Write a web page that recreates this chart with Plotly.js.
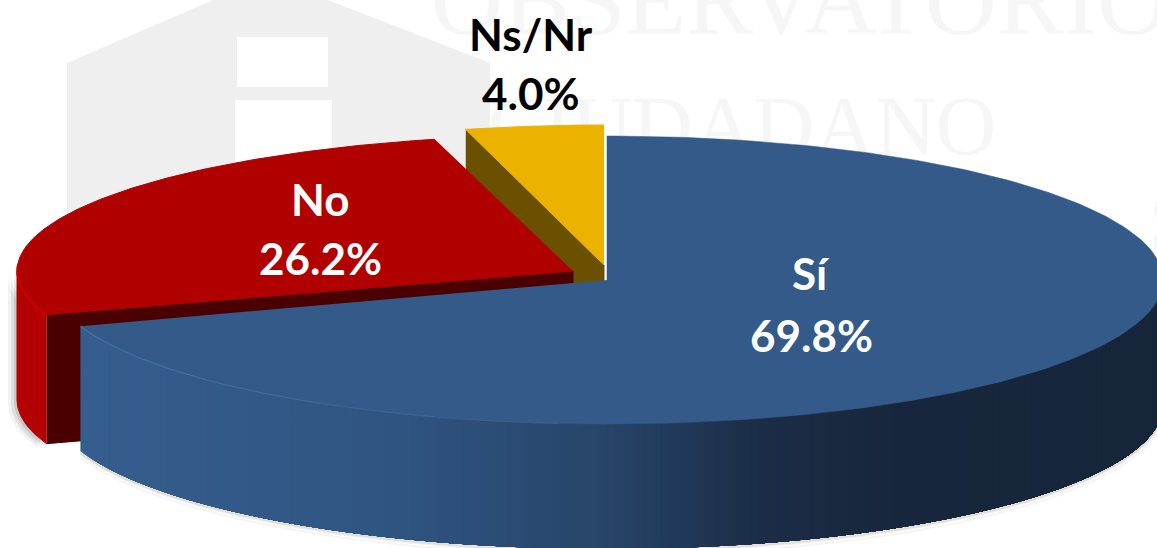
<!DOCTYPE html>
<html><head><meta charset="utf-8">
<script src="https://cdn.plot.ly/plotly-3.0.1.min.js"></script>
<style>html,body{margin:0;padding:0;background:#fff;overflow:hidden}#c{width:1157px;height:548px}</style>
</head><body><div id="c"></div>
<script>
const categories = ['Sí', 'No', 'Ns/Nr'];
const values = [69.8, 26.2, 4.0];
const topColors = ['#345A89', '#B00000', '#ECB200'];
const faceColors = ['#2F5481', '#4A0000', '#6B5000'];
const wallColor = '#B40000';
const centerX = [607, 573, 604];
const centerY = [280, 271, 265];
const radiiX = [556, 556, 556];
const radiiY = [144, 136, 140];
const depth = 125;
const labelX = [811, 320, 531];
const nameY = [273, 199, 34];
const pctY = [335, 258, 93];
const labelColors = ['#FFFFFF', '#FFFFFF', '#000000'];
const wallStopX = [80, 400, 607, 760, 900, 1157];
const wallStopRGB = [[53,94,142],[47,84,129],[39,68,105],[27,45,70],[23,38,60],[22,37,58]];
const watermarkText = ['OBSERVATORIO', 'CIUDADANO', 'S'];
const watermarkX = [800, 742, 1172];
const watermarkY = [8, 134, 230];
const watermarkSize = [100, 84, 84];
const rimAngles = [185, 198, 212, 226];
const rimColors = ['#37608F', '#3B6595', '#406B9B', '#44709F'];

const total = values.reduce((a, b) => a + b, 0);
const R = Math.PI / 180;
let acc = 0;
const startA = [], endA = [];
values.forEach(v => { startA.push(acc); acc += v / total * 360; endA.push(acc); });

const pt = (i, a, d = 0) => [centerX[i] + radiiX[i] * Math.sin(a * R), centerY[i] - radiiY[i] * Math.cos(a * R) + d];
const arc = (i, a0, a1, d = 0, n = 120) => {
  const out = [];
  for (let k = 0; k <= n; k++) out.push(pt(i, a0 + (a1 - a0) * k / n, d));
  return out;
};
const poly = (points, color, lw = 1) => ({
  type: 'scatter', mode: 'lines', x: points.map(p => p[0]), y: points.map(p => p[1]),
  fill: 'toself', fillcolor: color, line: { color, width: lw },
  hoverinfo: 'skip', showlegend: false
});
const stroke = (points, color, width) => ({
  type: 'scatter', mode: 'lines', x: points.map(p => p[0]), y: points.map(p => p[1]),
  line: { color, width }, hoverinfo: 'skip', showlegend: false
});
const wallColorAt = x => {
  let j = 0;
  while (j < wallStopX.length - 2 && x > wallStopX[j + 1]) j++;
  const t = Math.max(0, Math.min(1, (x - wallStopX[j]) / (wallStopX[j + 1] - wallStopX[j])));
  const c = wallStopRGB[j].map((v, k) => Math.round(v + (wallStopRGB[j + 1][k] - v) * t));
  return `rgb(${c[0]},${c[1]},${c[2]})`;
};

const traces = [];
// faint watermark, behind the pie
watermarkText.forEach((t, i) => traces.push({ type: 'scatter', mode: 'text', x: [watermarkX[i]], y: [watermarkY[i]], text: [t],
  textposition: 'middle center', cliponaxis: true,
  textfont: { family: 'Liberation Serif', size: watermarkSize[i], color: '#F6F6F6' }, hoverinfo: 'skip', showlegend: false }));

// Ns/Nr slice
const y0 = 2;
traces.push(poly([pt(y0, startA[y0]), [centerX[y0], centerY[y0]], [centerX[y0], centerY[y0] + depth], pt(y0, startA[y0], depth)], faceColors[y0]));
traces.push(poly([[centerX[y0], centerY[y0]], ...arc(y0, startA[y0], endA[y0], 0, 30)], topColors[y0]));

// No slice: soft shadow, wall, cut face, top
const r0 = 1;
const redWall = (dx, dy) => [...arc(r0, startA[r0], 270, 0, 40), ...arc(r0, 270, startA[r0], depth + 4, 40)].map(p => [p[0] + dx, p[1] + dy]);
[[-9, 4, 0.05], [-6, 3, 0.07], [-3, 2, 0.1]].forEach(s => traces.push(poly(redWall(s[0], s[1]), `rgba(0,0,0,${s[2]})`, 0)));
traces.push(poly(redWall(0, 0), wallColor));
traces.push(poly([pt(r0, startA[r0]), [centerX[r0], centerY[r0]], [centerX[r0], centerY[r0] + depth + 4], pt(r0, startA[r0], depth + 4)], faceColors[r0]));
traces.push(poly([[centerX[r0], centerY[r0]], ...arc(r0, startA[r0], endA[r0])], topColors[r0]));
traces.push(stroke(arc(r0, startA[r0], 272, 0, 40), '#D00000', 1.5));

// Sí slice: shadow under the rim, gradient wall, top, rim highlight
const b0 = 0;
[[6, 0.05], [3, 0.08], [1.5, 0.14]].forEach(s => {
  traces.push(stroke(arc(b0, 92, endA[b0], depth + s[0], 160), `rgba(60,50,30,${s[1]})`, 2));
});
const segs = 170;
for (let k = segs - 1; k >= 0; k--) {
  // each band runs back to the far end of the wall, so no seams show between bands
  const a0 = 92, a1 = 92 + (endA[b0] - 92) * (k + 1) / segs;
  const mid = pt(b0, 92 + (endA[b0] - 92) * (k + 0.5) / segs);
  traces.push(poly([...arc(b0, a1, a0, 0, 40), ...arc(b0, a0, a1, depth, 40)], wallColorAt(mid[0]), 0));
}
traces.push(poly([[centerX[b0], centerY[b0]], ...arc(b0, startA[b0], endA[b0], 0, 240)], topColors[b0], 0.5));
rimAngles.forEach((a, i) => {
  const next = i + 1 < rimAngles.length ? rimAngles[i + 1] : endA[b0];
  traces.push(stroke(arc(b0, a, next, 0, 30), rimColors[i], 1.2));
});

const annotations = [];
categories.forEach((c, i) => {
  const font = { family: 'Lato, sans-serif', size: 44, color: labelColors[i], weight: 700 };
  annotations.push({ x: labelX[i], y: nameY[i], text: '<b>' + c + '</b>', showarrow: false, font, xref: 'x', yref: 'y' });
  annotations.push({ x: labelX[i], y: pctY[i], text: '<b>' + values[i].toFixed(1) + '%</b>', showarrow: false, font, xref: 'x', yref: 'y' });
});

const shapes = [
  { type: 'path', layer: 'below', line: { width: 0 }, fillcolor: '#EFEFEF', xref: 'x', yref: 'y',
    path: 'M67,63 L213,0 L328,0 L490,63 L490,250 L67,250 Z' },
  { type: 'path', layer: 'below', line: { width: 0 }, fillcolor: '#FFFFFF', xref: 'x', yref: 'y',
    path: 'M237,37 L328,37 L328,87 L237,87 Z M235,100 L332,100 L332,170 L235,170 Z' }
];

Plotly.newPlot('c', traces, {
  width: 1157, height: 548, margin: { l: 0, r: 0, t: 0, b: 0 },
  paper_bgcolor: '#fff', plot_bgcolor: '#fff', showlegend: false,
  xaxis: { range: [0, 1157], visible: false, fixedrange: true },
  yaxis: { range: [548, 0], visible: false, fixedrange: true },
  annotations, shapes
}, { displayModeBar: false, staticPlot: true });
</script></body></html>
